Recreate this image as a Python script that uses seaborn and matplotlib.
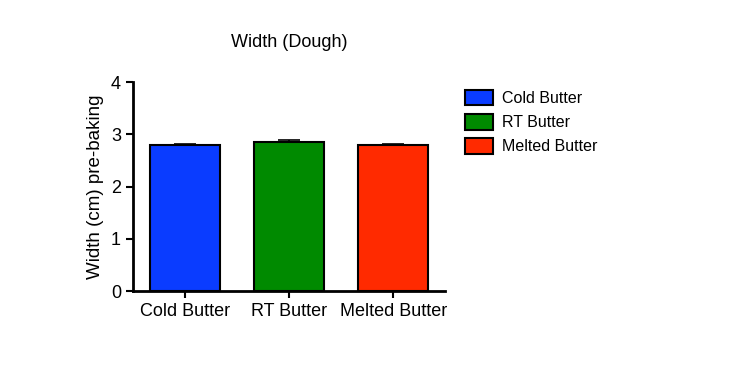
import matplotlib
matplotlib.use("Agg")
import matplotlib.pyplot as plt
import seaborn as sns
import pandas as pd
from matplotlib.patches import Patch

categories = ["Cold Butter", "RT Butter", "Melted Butter"]
means = [2.79, 2.85, 2.79]
errors = [0.03, 0.05, 0.03]
colors = ["#0a3cff", "#008a00", "#ff2a00"]
yticks = [0, 1, 2, 3, 4]

sns.set_style("ticks")
plt.rcParams['font.family'] = ['Liberation Sans', 'DejaVu Sans']
plt.rcParams['text.color'] = 'black'
plt.rcParams['axes.labelcolor'] = 'black'
plt.rcParams['xtick.color'] = 'black'
plt.rcParams['ytick.color'] = 'black'

df = pd.DataFrame({"cat": categories, "val": means})

fig = plt.figure(figsize=(7.3, 3.75), dpi=100)
ax = fig.add_axes([0.182, 0.224, 0.428, 0.557])

sns.barplot(data=df, x="cat", y="val", hue="cat", palette=colors, order=categories,
            hue_order=categories, width=0.67, edgecolor="black", linewidth=1.5,
            saturation=1, legend=False, ax=ax, errorbar=None)

ax.errorbar(range(len(categories)), means, yerr=[[0]*3, errors], fmt="none",
            ecolor="black", elinewidth=1.2, capsize=8, capthick=1.2, zorder=1)

ax.set_xlim(-0.5, 2.5)
ax.set_ylim(0, 4)
ax.set_yticks(yticks)
ax.set_xlabel("")
ax.set_ylabel("Width (cm) pre-baking", fontsize=13.5, labelpad=5)
ax.set_title("Width (Dough)", fontsize=13, pad=25)
ax.tick_params(axis="both", labelsize=13, width=1.5, length=5, color="black")
for s in ["left", "bottom"]:
    ax.spines[s].set_linewidth(2)
    ax.spines[s].set_color("black")
sns.despine(ax=ax)

handles = [Patch(facecolor=c, edgecolor="black", linewidth=1.5, label=l)
           for c, l in zip(colors, categories)]
fig.legend(handles=handles, loc="upper left", bbox_to_anchor=(0.617, 0.798),
           frameon=False, fontsize=11.5, handlelength=1.75, handleheight=1.1,
           handletextpad=0.55, labelspacing=0.5)

fig.savefig("out.png", dpi=100)
